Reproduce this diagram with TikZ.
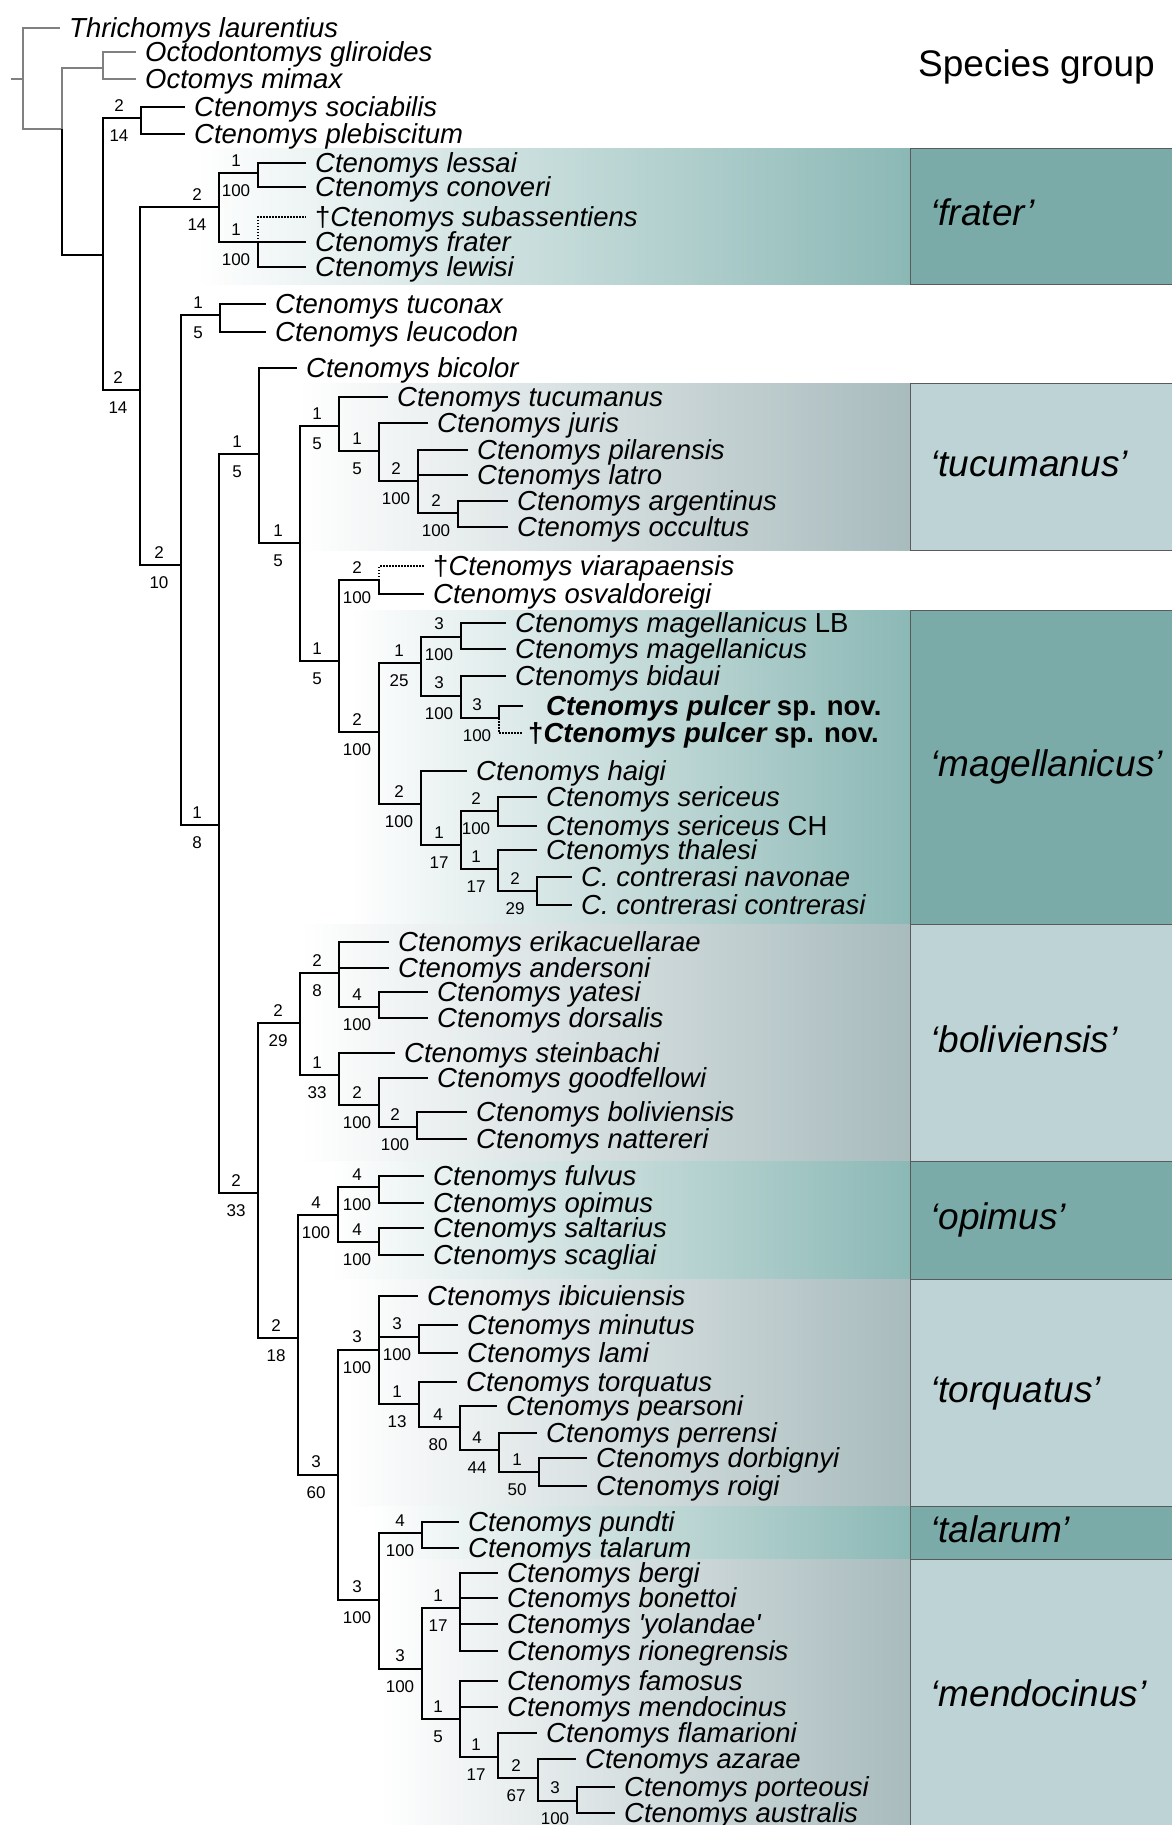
\documentclass[tikz,border=0pt]{standalone}
\usepackage{fontspec}
\setmainfont{Liberation Sans}
\usepackage{tikz}
\usetikzlibrary{positioning}
\definecolor{tealdk}{HTML}{7AABA8}
\definecolor{teallt}{HTML}{BDD3D5}
\definecolor{banddk}{HTML}{8BB8B5}
\definecolor{bandlt}{HTML}{A8BBBD}
\definecolor{outgrey}{HTML}{808080}
\definecolor{boxline}{HTML}{5A5A5A}
\newcommand\leaffont{\fontsize{27.5}{27.5}\selectfont\itshape}
\newcommand\supfont{\fontsize{17}{17}\selectfont}
\newcommand\grpfont{\fontsize{37}{37}\selectfont\itshape}
\tikzstyle{leaf} = [anchor=west, inner xsep=9pt, inner ysep=0pt, text height=19.5pt, text depth=0pt, font=\leaffont]
\tikzstyle{branch} = [line width=1.8pt, black]
\tikzstyle{outgr} = [line width=1.8pt, outgrey]
\tikzstyle{fossil} = [line width=1.5pt, dash pattern=on 1.5pt off 1.5pt]
\tikzstyle{hi} = [above=6pt, xshift=-22pt, inner sep=0pt, font=\supfont]
\tikzstyle{lo} = [below=11pt, xshift=-22pt, inner sep=0pt, font=\supfont]
\tikzstyle{grp} = [anchor=north west, draw=boxline, line width=0.8pt, text width=231pt, align=left, inner xsep=20pt, inner ysep=0pt, text height=19pt, text depth=0pt, font=\grpfont]

\begin{document}
\begin{tikzpicture}[x=1pt, y=-1pt]
    \useasboundingbox (0,0) rectangle (1171,1825);
    % gradient bands behind the species groups
    \shade[left color=white, right color=banddk] (196,148) rectangle (910,284);
    \shade[left color=white, right color=bandlt] (298,383) rectangle (910,550);
    \shade[left color=white, right color=banddk] (350,610) rectangle (910,924);
    \shade[left color=white, right color=bandlt] (300,924) rectangle (910,1161);
    \shade[left color=white, right color=banddk] (330,1161) rectangle (910,1279);
    \shade[left color=white, right color=bandlt] (345,1279) rectangle (910,1506);
    \shade[left color=white, right color=banddk] (370,1506) rectangle (910,1559);
    \shade[left color=white, right color=bandlt] (380,1559) rectangle (910,1825);
    % species group boxes
    \node (sg) [anchor=west, inner sep=0pt, text height=19pt, text depth=0pt, font=\fontsize{37}{37}\selectfont] at (918,67) {Species group};
    \node (g1) [grp, fill=tealdk, minimum height=136pt] at (910,148) {‘frater’};
    \node (g2) [grp, fill=teallt, minimum height=167pt] at (910,383) {‘tucumanus’};
    \node (g3) [grp, fill=tealdk, minimum height=314pt] at (910,610) {‘magellanicus’};
    \node (g4) [grp, fill=teallt, minimum height=237pt] at (910,924) {‘boliviensis’};
    \node (g5) [grp, fill=tealdk, minimum height=118pt] at (910,1161) {‘opimus’};
    \node (g6) [grp, fill=teallt, minimum height=227pt] at (910,1279) {‘torquatus’};
    \node (g7) [grp, fill=tealdk, minimum height=53pt] at (910,1506) {‘talarum’};
    \node (g8) [grp, fill=teallt, minimum height=275pt] at (910,1559) {‘mendocinus’};

    % outgroups
    \coordinate (r0) at (11,79);
    \coordinate (r) at (23,79);
    \coordinate (o0) at (62,129);
    \coordinate (k0) at (103,68);
    \node (s1) [leaf] at (60,28) {Thrichomys laurentius};
    \node (s2) [leaf] at (136,52) {Octodontomys gliroides};
    \node (s3) [leaf] at (136,79) {Octomys mimax};
    \draw [outgr] (r0) -- (r);
    \draw [outgr] (r) |- (s1) (r) |- (o0);
    \draw [outgr] (o0) |- (k0);
    \draw [outgr] (k0) |- (s2) (k0) |- (s3);

    % Ctenomys
    \coordinate (ka) at (103,255);
    \coordinate (k1) at (141,118);
    \coordinate (kb) at (140,390);
    \draw [branch] (o0) |- (ka);
    \draw [branch] (ka) |- (k1) node[hi]{2} node[lo]{14};
    \draw [branch] (ka) |- (kb) node[hi]{2} node[lo]{14};
    \node (s4) [leaf] at (185,107) {Ctenomys sociabilis};
    \node (s5) [leaf] at (185,134) {Ctenomys plebiscitum};
    \draw [branch] (k1) |- (s4) (k1) |- (s5);

    % frater
    \coordinate (k2) at (219,207);
    \coordinate (kc) at (181,565);
    \coordinate (k3) at (258,173);
    \coordinate (k4) at (258,242);
    \draw [branch] (kb) |- (k2) node[hi]{2} node[lo]{14};
    \draw [branch] (kb) |- (kc) node[hi]{2} node[lo]{10};
    \draw [branch] (k2) |- (k3) node[hi]{1} node[lo]{100};
    \draw [branch] (k2) |- (k4) node[hi]{1} node[lo]{100};
    \node (s6) [leaf] at (306,163) {Ctenomys lessai};
    \node (s7) [leaf] at (306,187) {Ctenomys conoveri};
    \node (s8) [leaf] at (306,217) {{\upshape †}Ctenomys subassentiens};
    \node (s9) [leaf] at (306,242) {Ctenomys frater};
    \node (s10) [leaf] at (306,267) {Ctenomys lewisi};
    \draw [branch] (k3) |- (s6) (k3) |- (s7);
    \draw [fossil] (k4) |- (s8);
    \draw [branch] (k4) |- (s9) (k4) |- (s10);

    % tuconax, bicolor
    \coordinate (k5) at (220,315);
    \coordinate (kd) at (219,825);
    \coordinate (k6) at (259,454);
    \coordinate (kf) at (258,1193);
    \coordinate (k7) at (300,543);
    \draw [branch] (kc) |- (k5) node[hi]{1} node[lo]{5};
    \draw [branch] (kc) |- (kd) node[hi]{1} node[lo]{8};
    \draw [branch] (kd) |- (k6) node[hi]{1} node[lo]{5};
    \draw [branch] (kd) |- (kf) node[hi]{2} node[lo]{33};
    \draw [branch] (k6) |- (k7) node[hi]{1} node[lo]{5};
    \node (s11) [leaf] at (266,304) {Ctenomys tuconax};
    \node (s12) [leaf] at (266,332) {Ctenomys leucodon};
    \node (s13) [leaf] at (297,368) {Ctenomys bicolor};
    \draw [branch] (k5) |- (s11) (k5) |- (s12);
    \draw [branch] (k6) |- (s13);

    % tucumanus
    \coordinate (k8) at (339,426);
    \coordinate (k9) at (379,451);
    \coordinate (k10) at (418,481);
    \coordinate (k11) at (458,513);
    \draw [branch] (k7) |- (k8) node[hi]{1} node[lo]{5};
    \draw [branch] (k8) |- (k9) node[hi]{1} node[lo]{5};
    \draw [branch] (k9) |- (k10) node[hi]{2} node[lo]{100};
    \draw [branch] (k10) |- (k11) node[hi]{2} node[lo]{100};
    \node (s14) [leaf] at (388,397) {Ctenomys tucumanus};
    \node (s15) [leaf] at (428,423) {Ctenomys juris};
    \node (s16) [leaf] at (468,450) {Ctenomys pilarensis};
    \node (s17) [leaf] at (468,475) {Ctenomys latro};
    \node (s18) [leaf] at (508,501) {Ctenomys argentinus};
    \node (s19) [leaf] at (508,527) {Ctenomys occultus};
    \draw [branch] (k8) |- (s14);
    \draw [branch] (k9) |- (s15);
    \draw [branch] (k10) |- (s16) (k10) |- (s17);
    \draw [branch] (k11) |- (s18) (k11) |- (s19);

    % magellanicus
    \coordinate (k12) at (339,661);
    \coordinate (k13) at (379,580);
    \coordinate (k14) at (379,732);
    \coordinate (k15) at (421,663);
    \coordinate (k16) at (461,637);
    \coordinate (k17) at (461,696);
    \coordinate (k18) at (499,718);
    \coordinate (k19) at (421,804);
    \coordinate (k20) at (461,845);
    \coordinate (k21) at (498,811);
    \coordinate (k22) at (498,869);
    \coordinate (k23) at (537,891);
    \draw [branch] (k7) |- (k12) node[hi]{1} node[lo]{5};
    \draw [branch] (k12) |- (k13) node[hi]{2} node[lo]{100};
    \draw [branch] (k12) |- (k14) node[hi]{2} node[lo]{100};
    \draw [branch] (k14) |- (k15) node[hi]{1} node[lo]{25};
    \draw [branch] (k15) |- (k16) node[hi]{3} node[lo]{100};
    \draw [branch] (k15) |- (k17) node[hi]{3} node[lo]{100};
    \draw [branch] (k17) |- (k18) node[hi]{3} node[lo]{100};
    \draw [branch] (k14) |- (k19) node[hi]{2} node[lo]{100};
    \draw [branch] (k19) |- (k20) node[hi]{1} node[lo]{17};
    \draw [branch] (k20) |- (k21) node[hi]{2} node[lo]{100};
    \draw [branch] (k20) |- (k22) node[hi]{1} node[lo]{17};
    \draw [branch] (k22) |- (k23) node[hi]{2} node[lo]{29};
    \node (s20) [leaf] at (424,566) {{\upshape †}Ctenomys viarapaensis};
    \node (s21) [leaf] at (424,594) {Ctenomys osvaldoreigi};
    \node (s22) [leaf] at (506,623) {Ctenomys magellanicus {\upshape LB}};
    \node (s23) [leaf] at (506,649) {Ctenomys magellanicus};
    \node (s24) [leaf] at (506,676) {Ctenomys bidaui};
    \node (s25) [leaf, inner xsep=23pt] at (523,706) {\bfseries Ctenomys pulcer {\upshape sp. nov.}};
    \node (s26) [leaf, inner xsep=5pt] at (523,733) {\bfseries{\upshape †}Ctenomys pulcer {\upshape sp. nov.}};
    \node (s27) [leaf] at (467,771) {Ctenomys haigi};
    \node (s28) [leaf] at (537,797) {Ctenomys sericeus};
    \node (s29) [leaf] at (537,826) {Ctenomys sericeus {\upshape CH}};
    \node (s30) [leaf] at (537,850) {Ctenomys thalesi};
    \node (s31) [leaf] at (572,877) {C. contrerasi navonae};
    \node (s32) [leaf] at (572,905) {C. contrerasi contrerasi};
    \draw [fossil] (k13) |- (s20);
    \draw [branch] (k13) |- (s21);
    \draw [branch] (k16) |- (s22) (k16) |- (s23);
    \draw [branch] (k17) |- (s24);
    \draw [branch] (k18) |- (s25);
    \draw [fossil] (k18) |- (s26);
    \draw [branch] (k19) |- (s27);
    \draw [branch] (k21) |- (s28) (k21) |- (s29);
    \draw [branch] (k22) |- (s30);
    \draw [branch] (k23) |- (s31) (k23) |- (s32);

    % boliviensis
    \coordinate (k24) at (300,1023);
    \coordinate (kg) at (298,1338);
    \coordinate (k25) at (339,973);
    \coordinate (k26) at (379,1007);
    \coordinate (k27) at (339,1075);
    \coordinate (k28) at (379,1105);
    \coordinate (k29) at (417,1127);
    \draw [branch] (kf) |- (k24) node[hi]{2} node[lo]{29};
    \draw [branch] (kf) |- (kg) node[hi]{2} node[lo]{18};
    \draw [branch] (k24) |- (k25) node[hi]{2} node[lo]{8};
    \draw [branch] (k25) |- (k26) node[hi]{4} node[lo]{100};
    \draw [branch] (k24) |- (k27) node[hi]{1} node[lo]{33};
    \draw [branch] (k27) |- (k28) node[hi]{2} node[lo]{100};
    \draw [branch] (k28) |- (k29) node[hi]{2} node[lo]{100};
    \node (s33) [leaf] at (389,942) {Ctenomys erikacuellarae};
    \node (s34) [leaf] at (389,968) {Ctenomys andersoni};
    \node (s35) [leaf] at (428,992) {Ctenomys yatesi};
    \node (s36) [leaf] at (428,1018) {Ctenomys dorsalis};
    \node (s37) [leaf] at (395,1053) {Ctenomys steinbachi};
    \node (s38) [leaf] at (428,1078) {Ctenomys goodfellowi};
    \node (s39) [leaf] at (467,1112) {Ctenomys boliviensis};
    \node (s40) [leaf] at (467,1139) {Ctenomys nattereri};
    \draw [branch] (k25) |- (s33) (k25) |- (s34);
    \draw [branch] (k26) |- (s35) (k26) |- (s36);
    \draw [branch] (k27) |- (s37);
    \draw [branch] (k28) |- (s38);
    \draw [branch] (k29) |- (s39) (k29) |- (s40);

    % opimus
    \coordinate (k30) at (338,1215);
    \coordinate (kh) at (338,1475);
    \coordinate (k31) at (379,1187);
    \coordinate (k32) at (379,1242);
    \draw [branch] (kg) |- (k30) node[hi]{4} node[lo]{100};
    \draw [branch] (kg) |- (kh) node[hi]{3} node[lo]{60};
    \draw [branch] (k30) |- (k31) node[hi]{4} node[lo]{100};
    \draw [branch] (k30) |- (k32) node[hi]{4} node[lo]{100};
    \node (s41) [leaf] at (424,1176) {Ctenomys fulvus};
    \node (s42) [leaf] at (424,1203) {Ctenomys opimus};
    \node (s43) [leaf] at (424,1228) {Ctenomys saltarius};
    \node (s44) [leaf] at (424,1255) {Ctenomys scagliai};
    \draw [branch] (k31) |- (s41) (k31) |- (s42);
    \draw [branch] (k32) |- (s43) (k32) |- (s44);

    % torquatus
    \coordinate (k33) at (379,1350);
    \coordinate (ki) at (379,1600);
    \coordinate (k34) at (419,1337);
    \coordinate (k35) at (419,1404);
    \coordinate (k36) at (460,1427);
    \coordinate (k37) at (499,1450);
    \coordinate (k38) at (539,1472);
    \draw [branch] (kh) |- (k33) node[hi]{3} node[lo]{100};
    \draw [branch] (kh) |- (ki) node[hi]{3} node[lo]{100};
    \draw [branch] (k33) |- (k34) node[hi]{3} node[lo]{100};
    \draw [branch] (k33) |- (k35) node[hi]{1} node[lo]{13};
    \draw [branch] (k35) |- (k36) node[hi]{4} node[lo]{80};
    \draw [branch] (k36) |- (k37) node[hi]{4} node[lo]{44};
    \draw [branch] (k37) |- (k38) node[hi]{1} node[lo]{50};
    \node (s45) [leaf] at (418,1296) {Ctenomys ibicuiensis};
    \node (s46) [leaf] at (458,1325) {Ctenomys minutus};
    \node (s47) [leaf] at (458,1353) {Ctenomys lami};
    \node (s48) [leaf] at (457,1382) {Ctenomys torquatus};
    \node (s49) [leaf] at (497,1406) {Ctenomys pearsoni};
    \node (s50) [leaf] at (537,1433) {Ctenomys perrensi};
    \node (s51) [leaf] at (587,1458) {Ctenomys dorbignyi};
    \node (s52) [leaf] at (587,1486) {Ctenomys roigi};
    \draw [branch] (k33) |- (s45);
    \draw [branch] (k34) |- (s46) (k34) |- (s47);
    \draw [branch] (k35) |- (s48);
    \draw [branch] (k36) |- (s49);
    \draw [branch] (k37) |- (s50);
    \draw [branch] (k38) |- (s51) (k38) |- (s52);

    % talarum, mendocinus
    \coordinate (k39) at (422,1533);
    \coordinate (k40) at (422,1669);
    \coordinate (k41) at (460,1608);
    \coordinate (k42) at (460,1719);
    \coordinate (k43) at (498,1757);
    \coordinate (k44) at (538,1778);
    \coordinate (k45) at (577,1801);
    \draw [branch] (ki) |- (k39) node[hi]{4} node[lo]{100};
    \draw [branch] (ki) |- (k40) node[hi]{3} node[lo]{100};
    \draw [branch] (k40) |- (k41) node[hi]{1} node[lo]{17};
    \draw [branch] (k40) |- (k42) node[hi]{1} node[lo]{5};
    \draw [branch] (k42) |- (k43) node[hi]{1} node[lo]{17};
    \draw [branch] (k43) |- (k44) node[hi]{2} node[lo]{67};
    \draw [branch] (k44) |- (k45) node[hi]{3} node[lo]{100};
    \node (s53) [leaf] at (459,1522) {Ctenomys pundti};
    \node (s54) [leaf] at (459,1548) {Ctenomys talarum};
    \node (s55) [leaf] at (498,1573) {Ctenomys bergi};
    \node (s56) [leaf] at (498,1598) {Ctenomys bonettoi};
    \node (s57) [leaf] at (498,1624) {Ctenomys \textquotesingle yolandae\textquotesingle};
    \node (s58) [leaf] at (498,1651) {Ctenomys rionegrensis};
    \node (s59) [leaf] at (498,1681) {Ctenomys famosus};
    \node (s60) [leaf] at (498,1707) {Ctenomys mendocinus};
    \node (s61) [leaf] at (537,1733) {Ctenomys flamarioni};
    \node (s62) [leaf] at (576,1759) {Ctenomys azarae};
    \node (s63) [leaf] at (615,1787) {Ctenomys porteousi};
    \node (s64) [leaf] at (615,1813) {Ctenomys australis};
    \draw [branch] (k39) |- (s53) (k39) |- (s54);
    \draw [branch] (k41) |- (s55) (k41) |- (s56) (k41) |- (s57) (k41) |- (s58);
    \draw [branch] (k42) |- (s59) (k42) |- (s60);
    \draw [branch] (k43) |- (s61);
    \draw [branch] (k44) |- (s62);
    \draw [branch] (k45) |- (s63) (k45) |- (s64);
\end{tikzpicture}
\end{document}
